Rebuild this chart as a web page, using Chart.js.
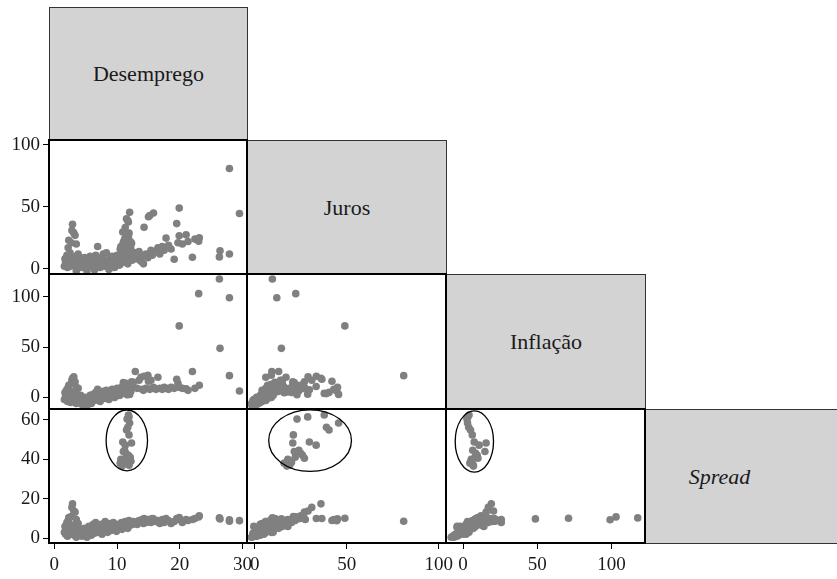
<!DOCTYPE html>
<html>
<head>
<meta charset="utf-8">
<script src="https://cdn.jsdelivr.net/npm/chart.js@4/dist/chart.umd.min.js"></script>
<style>
  html, body { margin: 0; padding: 0; background: #fff; }
  #wrap { position: relative; width: 837px; height: 579px; overflow: hidden; }
  canvas { position: absolute; }
  .lbl {
    position: absolute; box-sizing: border-box;
    background: #d3d3d3; border: 1px solid #333;
    display: flex; align-items: center; justify-content: center;
    font-family: "Liberation Serif", "Times New Roman", Times, "DejaVu Serif", serif;
    font-size: 22px; color: #1a1a1a;
  }
</style>
</head>
<body>
<div id="wrap"></div>
<script>
// one entry per observation, same order in every array
const desemprego = [
  11.8, 11.9, 11.6, 12.0, 11.7, 11.5, 11.9, 12.3, 10.9, 11.3,
  11.0, 11.2, 10.6, 11.0, 11.8, 12.1, 10.5, 11.5, 10.8, 12.2,
  11.4, 11.9,
  2.9, 2.8, 3.1, 3.3, 2.3, 2.7, 3.5, 2.2,
  26.3, 23.0, 27.9, 19.9, 26.4, 27.9, 29.5,
  1.6, 1.7, 1.8, 2.0, 2.1, 2.3, 2.4, 2.5, 2.6, 2.8,
  3.0, 3.2, 3.4, 3.5, 3.7, 3.8, 4.0, 4.2,
  4.4, 4.6, 4.8, 5.0, 5.2, 5.3, 5.5, 5.7, 5.9, 6.1,
  6.2, 6.4, 6.6, 6.8, 6.9, 7.1, 7.3, 7.5, 7.6, 7.8,
  8.0, 8.1, 8.3, 8.5, 8.7, 8.9, 9.1, 9.2, 9.4, 9.6,
  9.8, 9.9, 10.0,
  10.2, 10.4, 10.5, 10.7, 10.8, 11.0, 11.1, 11.3, 11.4, 11.6,
  11.7, 11.9, 12.0, 12.2, 12.4, 12.6,
  12.9, 13.2, 13.5, 13.8, 14.0, 14.2, 14.3, 14.6, 14.9, 15.0,
  15.2, 15.4, 15.6, 15.8, 16.2, 16.5, 16.8, 17.2, 17.5, 17.8,
  18.2, 18.6, 19.1, 19.5, 19.7, 19.9, 20.4, 21.0, 21.3, 22.0,
  22.4, 23.1
];
const juros = [
  37.8, 28.8, 23.0, 45.6, 39.0, 40.4, 21.0, 20.7, 29.7, 33.4,
  21.5, 24.0, 18.0, 20.0, 26.0, 22.0, 16.0, 27.0, 17.5, 19.5,
  25.0, 19.0,
  36, 31, 29, 27, 23, 21, 20, 17,
  9.6, 22.3, 12.0, 49, 14.5, 81, 44.6,
  2, 8, 5, 11, 1, 4, 7, 13, 2, 9,
  6, 3, 10, -1.8, 5, 12, 3, 8,
  1, 6, 9, 3, -1.5, 7, 4, 10, 2, 5,
  8, -1, 11, 3, 18, 6, 1, 9, 4, 12,
  2, 7, 13, 5, -0.5, 8, 3, 10, 6, 1,
  9, 4, 11,
  7, 3, 9, 12, 5, 14, 8, 6, 15, 10,
  4, 12, 9, 16, 7, 11,
  13, 8, 14, 6, 10, 4, 33.5, 12, 9, 42,
  43, 15, 11, 45, 14, 17, 12, 18, 15, 24.8,
  19, 16, 7.7, 36.5, 21, 26.7, 20, 27.5, 22, 9.3,
  24, 25
];
const inflacao = [
  4.0, 3.2, 2.6, 3.0, 3.8, 5.0, 6.2, 15.5, 7.5, 10.8,
  14.7, 6.5, 5.5, 5.0, 9.5, 8.0, 4.6, 10.0, 7.0, 6.0,
  8.5, 6.8,
  19.0, 17.0, 20.5, 15.5, 12.0, 14.0, 10.0, 8.0,
  117.6, 103, 99, 71, 48.7, 21.6, 6.4,
  -2, 5, 2, 8, -4, 0, 3, 6, -5, 4,
  -1, -3, 7, -6, 1, 9, -2, 2,
  -7, -3, 0, -5, -8, -1, -4, 2, -6, 0,
  3, -3, 5, -2, 8, 1, -4, 4, 0, 6,
  -1, 3, 7, 2, -2, 5, 1, 8, 4, 0,
  6, 3, 9,
  5, 2, 8, 10, 4, 12, 6, 9, 14, 11,
  3, 7, 13, 10, 12, 15,
  25.7, 9, 17, 20, 8, 7, 21, 9, 22, 16,
  8, 17, 9, 10, 8, 20, 9, 8, 10, 9,
  8, 10, 9, 18, 14, 10, 9, 8.5, 7, 25.7,
  9, 12
];
const spread = [
  62.4, 61.4, 60.3, 58.3, 56.2, 54.8, 52.3, 48.2, 48.7, 47.1,
  43.9, 44.5, 40.0, 38.5, 42.0, 41.0, 38.0, 40.5, 36.5, 39.0,
  43.0, 37.0,
  17.4, 15.6, 13.8, 13.2, 10.5, 11.0, 9.5, 9.0,
  10.3, 10.8, 9.4, 10.1, 9.8, 8.6, 8.9,
  3, 6, 2, 8, 1, 4, 5.5, 7, 2, 3,
  5, 1.5, 6.5, 0.5, 3.5, 7.5, 2.5, 4.5,
  1, 3, 5, 2, 0.5, 4, 6, 3, 1.5, 5,
  7, 2.5, 8, 4, 6, 3, 5.5, 7, 2, 6.5,
  4.5, 8.5, 5, 3, 6, 7.5, 4, 6, 8, 5,
  7, 3.5, 6.5,
  5, 7, 6, 8, 4.5, 7.5, 5.5, 8.5, 6, 7,
  5, 9, 6.5, 8, 7, 8.5,
  8, 7, 9, 8.5, 9.5, 7.5, 10, 8, 9.5, 9,
  9.5, 8, 10, 9.8, 8.5, 9, 7.5, 9.5, 8, 10,
  9, 7.5, 8.5, 10, 9.5, 10.5, 8, 9.5, 9, 9.5,
  10, 11.4
];

const nomes = ['Desemprego', 'Juros', 'Inflação', 'Spread'];
const series = [desemprego, juros, inflacao, spread];
const ticksDesemprego = [0, 10, 20, 30];
const ticksJuros = [0, 50, 100];
const ticksInflacao = [0, 50, 100];
const ticksSpread = [0, 20, 40, 60];
const allTicks = [ticksDesemprego, ticksJuros, ticksInflacao, ticksSpread];
const limites = [[-0.85, 30.7], [-4.2, 104], [-11.5, 122.5], [-2.4, 65.4]];

// circled group in the Spread row: [x variable, centre x, centre y, radius x, radius y]
const elipses = [
  [0, 11.55, 49.5, 3.3, 15.4],
  [1, 30.1, 49.4, 22.5, 15.6],
  [2, 7.6, 49.0, 12.9, 15.5]
];

const colX = [49, 247, 446, 645, 844];
const rowY = [7, 140, 274, 409, 543];
const PAD = 25;

Chart.defaults.font.family = '"Liberation Serif", "Times New Roman", Times, "DejaVu Serif", serif';
Chart.defaults.color = '#1a1a1a';

const wrap = document.getElementById('wrap');

// diagonal label boxes
nomes.forEach((n, i) => {
  const d = document.createElement('div');
  d.className = 'lbl';
  d.style.left = colX[i] + 'px';
  d.style.top = rowY[i] + 'px';
  d.style.width = (colX[i + 1] - colX[i] + 1) + 'px';
  d.style.height = (rowY[i + 1] - rowY[i] + 1) + 'px';
  if (i === 3) {
    d.style.fontStyle = 'italic';
    d.style.paddingRight = '51px';
  }
  d.textContent = n;
  wrap.appendChild(d);
});

const panelPlugin = {
  id: 'panelPlugin',
  afterDatasetsDraw(chart, args, opts) {
    const ctx = chart.ctx;
    const a = chart.chartArea;
    const xs = chart.scales.x, ys = chart.scales.y;
    ctx.save();
    if (opts.row === 3) {
      elipses.filter(e => e[0] === opts.col).forEach(e => {
        const cx = xs.getPixelForValue(e[1]);
        const cy = ys.getPixelForValue(e[2]);
        const rx = Math.abs(xs.getPixelForValue(e[1] + e[3]) - cx);
        const ry = Math.abs(ys.getPixelForValue(e[2] + e[4]) - cy);
        ctx.beginPath();
        ctx.ellipse(cx, cy, rx, ry, 0, 0, Math.PI * 2);
        ctx.lineWidth = 1.3;
        ctx.strokeStyle = '#000';
        ctx.stroke();
      });
    }
    ctx.lineWidth = 2;
    ctx.strokeStyle = '#000';
    ctx.strokeRect(a.left, a.top, a.right - a.left, a.bottom - a.top);
    ctx.restore();
  }
};

function axisOpts(v, show, pos) {
  return {
    type: 'linear',
    position: pos,
    display: show,
    min: limites[v][0],
    max: limites[v][1],
    afterBuildTicks: s => { s.ticks = allTicks[v].map(t => ({ value: t })); },
    afterFit: s => {
      if (!show) return;
      if (pos === 'left') s.width = colX[0];
      else s.height = 579 - rowY[4];
    },
    ticks: {
      autoSkip: false, maxRotation: 0, padding: pos === 'left' ? 3 : 5,
      font: { size: 19 }, color: '#1a1a1a'
    },
    grid: {
      display: true, drawOnChartArea: false, drawTicks: true,
      tickLength: 6, color: '#000', lineWidth: 1
    },
    border: { display: false }
  };
}

for (let r = 1; r < 4; r++) {
  for (let c = 0; c < r; c++) {
    const left = c === 0 ? 0 : colX[c] - PAD;
    const top = rowY[r] - PAD;
    const right = colX[c + 1] + PAD;
    const bottom = r === 3 ? 579 : rowY[r + 1] + PAD;
    const cv = document.createElement('canvas');
    cv.width = right - left;
    cv.height = bottom - top;
    cv.style.left = left + 'px';
    cv.style.top = top + 'px';
    cv.style.width = cv.width + 'px';
    cv.style.height = cv.height + 'px';
    wrap.appendChild(cv);

    const xs = series[c], ys = series[r];
    const pts = xs.map((x, i) => ({ x: x, y: ys[i] }));

    new Chart(cv.getContext('2d'), {
      type: 'scatter',
      data: {
        datasets: [{
          data: pts,
          pointRadius: 3.8,
          pointBackgroundColor: '#808080',
          pointBorderWidth: 0,
          clip: 6
        }]
      },
      options: {
        responsive: false,
        animation: false,
        devicePixelRatio: 1,
        events: [],
        layout: {
          padding: { left: c === 0 ? 0 : PAD, top: PAD, right: PAD, bottom: r === 3 ? 0 : PAD }
        },
        scales: {
          x: axisOpts(c, r === 3, 'bottom'),
          y: axisOpts(r, c === 0, 'left')
        },
        plugins: {
          legend: { display: false },
          tooltip: { enabled: false },
          panelPlugin: { row: r, col: c }
        }
      },
      plugins: [panelPlugin]
    });
  }
}
</script>
</body>
</html>
